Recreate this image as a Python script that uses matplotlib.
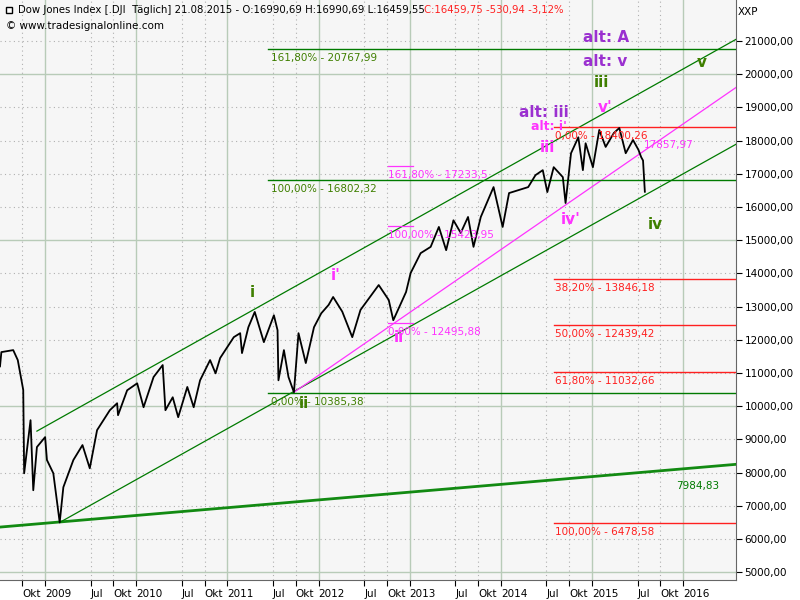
import matplotlib
matplotlib.use("Agg")
import matplotlib.pyplot as plt
from matplotlib.ticker import FixedLocator, FuncFormatter

dates = [2008.505, 2008.52, 2008.65, 2008.70, 2008.76, 2008.77, 2008.84, 2008.87, 2008.91, 2009.00, 2009.02,
         2009.09, 2009.16, 2009.20, 2009.31, 2009.41, 2009.49, 2009.57, 2009.71, 2009.79, 2009.80,
         2009.90, 2010.01, 2010.08, 2010.19, 2010.29, 2010.32, 2010.40, 2010.46, 2010.56, 2010.63,
         2010.70, 2010.81, 2010.87, 2010.92, 2011.07, 2011.14, 2011.16, 2011.23, 2011.30, 2011.40,
         2011.51, 2011.55, 2011.56, 2011.62, 2011.67, 2011.73, 2011.78, 2011.86, 2011.95, 2012.03,
         2012.11, 2012.16, 2012.26, 2012.37, 2012.46, 2012.66, 2012.77, 2012.82, 2012.96, 2013.01,
         2013.12, 2013.23, 2013.32, 2013.40, 2013.48, 2013.56, 2013.64, 2013.70, 2013.78, 2013.92,
         2014.02, 2014.09, 2014.30, 2014.38, 2014.46, 2014.51, 2014.58, 2014.68, 2014.71, 2014.77,
         2014.85, 2014.90, 2014.93, 2015.01, 2015.08, 2015.15, 2015.24, 2015.30, 2015.37, 2015.45,
         2015.51, 2015.54, 2015.56, 2015.58]
prices = [11200, 11630, 11690, 11390, 10490, 7980, 9580, 7470, 8770, 9070, 8380,
          7980, 6500, 7560, 8380, 8830, 8130, 9280, 9880, 10090, 9730,
          10480, 10690, 9970, 10880, 11240, 9880, 10270, 9670, 10580, 9970,
          10780, 11390, 10990, 11450, 12080, 12200, 11600, 12380, 12840, 11930,
          12740, 12290, 10780, 11690, 10880, 10420, 12200, 11300, 12380, 12800,
          13050, 13290, 12850, 12080, 12900, 13650, 13200, 12590, 13440, 14010,
          14610, 14800, 15400, 14700, 15600, 15220, 15700, 14800, 15700, 16600,
          15400, 16420, 16600, 16960, 17110, 16450, 17200, 16900, 16120, 17620,
          18100, 17110, 17920, 17200, 18320, 17810, 18230, 18380, 17620, 18020,
          17720, 17500, 17400, 16460]

x_tick_pos = [2008.75, 2009.0, 2009.5, 2009.75, 2010.0, 2010.5, 2010.75, 2011.0, 2011.5, 2011.75,
              2012.0, 2012.5, 2012.75, 2013.0, 2013.5, 2013.75, 2014.0, 2014.5, 2014.75, 2015.0,
              2015.5, 2015.75, 2016.0]
x_tick_labels = ["Okt", "2009", "Jul", "Okt", "2010", "Jul", "Okt", "2011", "Jul", "Okt",
                 "2012", "Jul", "Okt", "2013", "Jul", "Okt", "2014", "Jul", "Okt", "2015",
                 "Jul", "Okt", "2016"]
y_ticks = list(range(5000, 21001, 1000))

XMIN, XMAX = 2008.505, 2016.58
YMIN, YMAX = 4760, 22235

thick_line = (2008.505, 6360, 2016.58, 8250)
lower_channel = (2009.16, 6500, 2016.58, 17890)
upper_channel = (2008.91, 9250, 2016.58, 21050)
magenta_line = (2011.73, 10420, 2016.58, 19600)

green_levels = [(20767.99, "161,80% - 20767,99"), (16802.32, "100,00% - 16802,32"), (10385.38, "0,00% - 10385,38")]
green_start = 2011.45
magenta_levels = [(17233.5, "161,80% - 17233,5"), (15423.95, "100,00% - 15423,95"), (12495.88, "0,00% - 12495,88")]
magenta_span = (2012.76, 2013.04)
red_levels = [(18400.26, "0,00% - 18400,26"), (13846.18, "38,20% - 13846,18"), (12439.42, "50,00% - 12439,42"),
              (11032.66, "61,80% - 11032,66"), (6478.58, "100,00% - 6478,58")]
red_start = 2014.58

GREEN = "#007a00"
WGREEN = "#3f7f00"
MAG = "#ff33ff"
PURP = "#9b30d0"
RED = "#ff2020"

waves = [
    ("i", 2011.27, 13440, WGREEN, 11), ("ii", 2011.84, 10090, WGREEN, 11), ("iii", 2015.10, 19765, WGREEN, 11),
    ("iv", 2015.70, 15460, WGREEN, 11), ("v", 2016.20, 20340, WGREEN, 11),
    ("i'", 2012.19, 13950, MAG, 11), ("ii", 2012.88, 12080, MAG, 11), ("iii", 2014.51, 17780, MAG, 11),
    ("iv'", 2014.77, 15610, MAG, 11), ("v'", 2015.14, 19010, MAG, 11), ("alt: i'", 2014.53, 18420, MAG, 9),
    ("alt: iii", 2014.47, 18860, PURP, 11), ("alt: v", 2015.15, 20370, PURP, 11), ("alt: A", 2015.15, 21100, PURP, 11),
]

fig = plt.figure(figsize=(8, 6), dpi=100)
ax = fig.add_axes([0, 0.033, 0.92, 0.967])
ax.set_facecolor("#f6f6f6")
ax.set_xlim(XMIN, XMAX)
ax.set_ylim(YMIN, YMAX)

for y in range(5000, 22000, 1000):
    if y % 5000 == 0:
        ax.axhline(y, color="#b8cbb8", lw=1, zorder=0)
    else:
        ax.axhline(y, color="#b0b0b0", lw=0.8, ls=(0, (1, 3)), zorder=0)
for xp, lab in zip(x_tick_pos, x_tick_labels):
    if lab.isdigit():
        ax.axvline(xp, color="#b8cbb8", lw=1, zorder=0)
    else:
        ax.axvline(xp, color="#b0b0b0", lw=0.8, ls=(0, (1, 3)), zorder=0)

ax.plot(dates, prices, color="black", lw=1.3, zorder=5)

ax.plot(thick_line[::2], thick_line[1::2], color="#128a12", lw=2, zorder=3)
for ln in (lower_channel, upper_channel):
    ax.plot(ln[::2], ln[1::2], color=GREEN, lw=0.9, zorder=3)
ax.plot(magenta_line[::2], magenta_line[1::2], color=MAG, lw=0.9, zorder=3)
ax.text(2015.92, 7984.83 - 250, "7984,83", color=GREEN, fontsize=7.5, va="top", ha="left")

for v, lab in green_levels:
    ax.plot([green_start, XMAX], [v, v], color=GREEN, lw=1, zorder=3)
    ax.text(green_start + 0.03, v - 120, lab, color=WGREEN, fontsize=7.5, va="top", ha="left", zorder=6)
for v, lab in magenta_levels:
    ax.plot(magenta_span, [v, v], color=MAG, lw=0.9, zorder=3)
    ax.text(magenta_span[0], v - 120, lab, color=MAG, fontsize=7.5, va="top", ha="left", zorder=6)
for v, lab in red_levels:
    ax.plot([red_start, XMAX], [v, v], color=RED, lw=1, zorder=3)
    ax.text(red_start + 0.01, v - 120, lab, color=RED, fontsize=7.5, va="top", ha="left", zorder=6)
ax.text(2015.57, 17857.97, "17857,97", color=MAG, fontsize=7.5, va="center", ha="left", zorder=6)

for t, xx, yy, c, fs in waves:
    ax.text(xx, yy, t, color=c, fontsize=fs, fontweight="bold", ha="center", va="center", zorder=7)

# header
ax.plot([0.012], [0.982], transform=ax.transAxes, marker="s", ms=4, mfc="white", mec="black", mew=1, clip_on=False)
ax.text(0.024, 0.982, "Dow Jones Index [.DJI  Täglich] 21.08.2015 - O:16990,69 H:16990,69 L:16459,55",
        transform=ax.transAxes, fontsize=7.3, va="center", ha="left")
ax.text(0.576, 0.982, "C:16459,75 -530,94 -3,12%", transform=ax.transAxes, fontsize=7.3, va="center",
        ha="left", color=RED)
ax.text(0.008, 0.955, "© www.tradesignalonline.com", transform=ax.transAxes, fontsize=7.5, va="center", ha="left")
fig.text(0.922, 0.98, "XXP", fontsize=7.5, va="center", ha="left")

ax.yaxis.tick_right()
ax.yaxis.set_major_locator(FixedLocator(y_ticks))
ax.yaxis.set_major_formatter(FuncFormatter(lambda v, p: f"{int(v)},00"))
ax.set_xticks(x_tick_pos)
ax.set_xticklabels(x_tick_labels, ha="left")
ax.tick_params(labelsize=7.5, length=4, pad=2)
for s in ("top", "left"):
    ax.spines[s].set_visible(False)
ax.spines["right"].set_color("#666666")
ax.spines["bottom"].set_color("#666666")

fig.savefig("out.png", dpi=100)
